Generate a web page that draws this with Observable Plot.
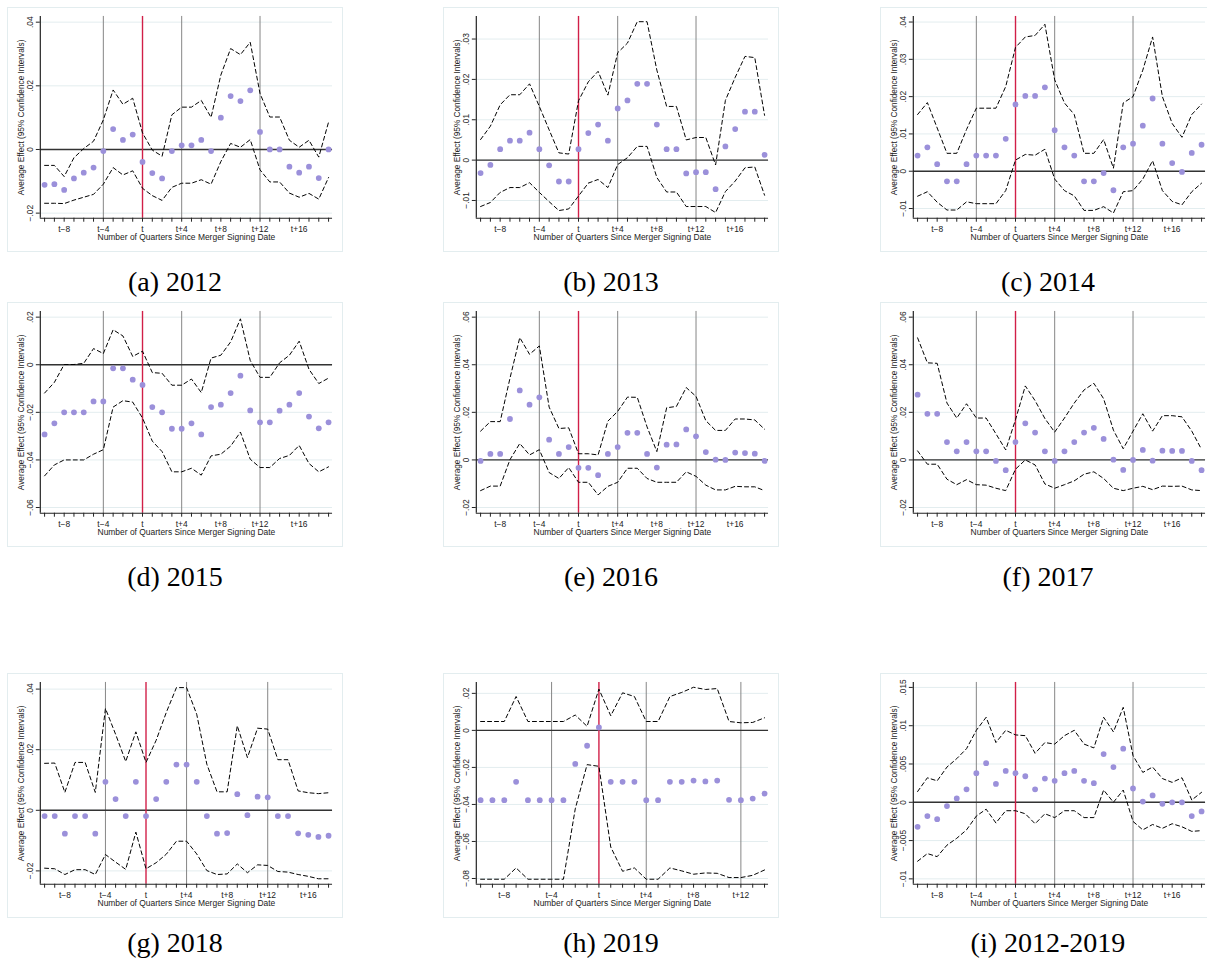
<!DOCTYPE html>
<html><head><meta charset="utf-8">
<script src="https://cdn.jsdelivr.net/npm/d3@7"></script>
<script src="https://cdn.jsdelivr.net/npm/@observablehq/plot@0.6"></script>
<style>
body{margin:0;background:#fff;}
#wrap{position:relative;width:1207px;height:966px;overflow:hidden;background:#fff;}
.panel{position:absolute;width:336px;height:245px;box-sizing:border-box;border:1px solid #e3edef;}
.panel svg{position:absolute;left:-1px;top:-1px;}
.cap{position:absolute;width:336px;text-align:center;font-family:"Liberation Serif","Times New Roman",serif;font-size:28px;line-height:30px;color:#000;white-space:nowrap;}
</style></head>
<body><div id="wrap"></div>
<script>
// ---------- data ----------
const quarters = d3.range(-10, 20);            // t-10 ... t+19
const xLabelTicks = [-8, -4, 0, 4, 8, 12, 16];
const eventLines = [-4, 4, 12];
const xTitle = "Number of Quarters Since Merger Signing Date";
const yTitle = "Average Effect (95% Confidence Intervals)";

const est2012 = [-0.0111,-0.0109,-0.0127,-0.0091,-0.0073,-0.0057,-0.0005,0.0064,0.0030,0.0047,-0.0039,-0.0074,-0.0091,-0.0005,0.0013,0.0013,0.0030,-0.0005,0.0100,0.0168,0.0152,0.0186,0.0055,0,0,-0.0054,-0.0073,-0.0054,-0.0090,0];
const hi2012  = [-0.0050,-0.0050,-0.0085,-0.0026,0.0003,0.0026,0.0093,0.0187,0.0142,0.0161,0.0052,-0.0002,-0.0021,0.0109,0.0133,0.0133,0.0154,0.0101,0.0234,0.0317,0.0298,0.0337,0.0176,0.0102,0.0102,0.0029,0.0007,0.0029,-0.0024,0.0086];
const lo2012  = [-0.0169,-0.0169,-0.0170,-0.0159,-0.0150,-0.0141,-0.0109,-0.0057,-0.0080,-0.0067,-0.0122,-0.0145,-0.0160,-0.0119,-0.0106,-0.0106,-0.0095,-0.0109,-0.0038,0.0019,0.0007,0.0031,-0.0064,-0.0102,-0.0102,-0.0137,-0.0150,-0.0138,-0.0156,-0.0088];
const yTicks2012 = [-0.02, 0, 0.02, 0.04];

const est2013 = [-0.0032,-0.0012,0.0027,0.0048,0.0048,0.0068,0.0027,-0.0013,-0.0053,-0.0053,0.0027,0.0067,0.0088,0.0048,0.0128,0.0148,0.0189,0.0189,0.0088,0.0027,0.0027,-0.0033,-0.0030,-0.0030,-0.0072,0.0034,0.0077,0.0120,0.0120,0.0013];
const hi2013  = [0.0051,0.0084,0.0137,0.0162,0.0162,0.0189,0.0133,0.0075,0.0018,0.0015,0.0147,0.0194,0.0220,0.0161,0.0266,0.0290,0.0343,0.0343,0.0223,0.0133,0.0133,0.0050,0.0056,0.0056,-0.0012,0.0148,0.0205,0.0257,0.0254,0.0111];
const lo2013  = [-0.0115,-0.0105,-0.0080,-0.0068,-0.0068,-0.0056,-0.0080,-0.0103,-0.0125,-0.0121,-0.0089,-0.0057,-0.0048,-0.0068,-0.0011,0.0006,0.0034,0.0034,-0.0043,-0.0079,-0.0079,-0.0115,-0.0115,-0.0115,-0.0130,-0.0078,-0.0052,-0.0019,-0.0017,-0.0087];
const yTicks2013 = [-0.01, 0, 0.01, 0.02, 0.03];

const est2014 = [0.0042,0.0064,0.0019,-0.0027,-0.0027,0.0019,0.0042,0.0042,0.0042,0.0087,0.0179,0.0202,0.0202,0.0225,0.0110,0.0064,0.0042,-0.0027,-0.0027,-0.0005,-0.0051,0.0064,0.0074,0.0122,0.0195,0.0074,0.0022,-0.0002,0.0049,0.0071];
const hi2014  = [0.0152,0.0184,0.0116,0.0048,0.0048,0.0112,0.0169,0.0169,0.0169,0.0227,0.0332,0.0360,0.0364,0.0394,0.0245,0.0183,0.0152,0.0048,0.0048,0.0085,0.0008,0.0183,0.0200,0.0271,0.0360,0.0200,0.0128,0.0091,0.0152,0.0180];
const lo2014  = [-0.0067,-0.0055,-0.0083,-0.0104,-0.0104,-0.0082,-0.0087,-0.0087,-0.0087,-0.0052,0.0030,0.0045,0.0043,0.0059,-0.0021,-0.0052,-0.0066,-0.0105,-0.0105,-0.0095,-0.0112,-0.0055,-0.0052,-0.0021,0.0028,-0.0052,-0.0081,-0.0090,-0.0055,-0.0032];
const yTicks2014 = [-0.01, 0, 0.01, 0.02, 0.03, 0.04];

const est2015 = [-0.0293,-0.0246,-0.0200,-0.0200,-0.0200,-0.0154,-0.0154,-0.0015,-0.0015,-0.0063,-0.0085,-0.0178,-0.0200,-0.0269,-0.0269,-0.0246,-0.0293,-0.0178,-0.0168,-0.0119,-0.0046,-0.0192,-0.0242,-0.0242,-0.0193,-0.0168,-0.0119,-0.0218,-0.0267,-0.0242];
const hi2015  = [-0.0119,-0.0074,0.0001,0.0001,0.0006,0.0068,0.0047,0.0147,0.0121,0.0035,0.0057,-0.0033,-0.0036,-0.0086,-0.0086,-0.0060,-0.0117,0.0028,0.0040,0.0096,0.0193,0.0018,-0.0053,-0.0053,0.0008,0.0040,0.0099,-0.0019,-0.0079,-0.0056];
const lo2015  = [-0.0467,-0.0421,-0.0400,-0.0400,-0.0400,-0.0376,-0.0357,-0.0178,-0.0151,-0.0157,-0.0224,-0.0321,-0.0365,-0.0450,-0.0450,-0.0435,-0.0464,-0.0383,-0.0376,-0.0342,-0.0283,-0.0397,-0.0432,-0.0432,-0.0394,-0.0381,-0.0339,-0.0415,-0.0450,-0.0429];
const yTicks2015 = [-0.06, -0.04, -0.02, 0, 0.02];

const est2016 = [-0.0004,0.0025,0.0025,0.0172,0.0292,0.0232,0.0263,0.0085,0.0025,0.0054,-0.0033,-0.0033,-0.0064,0.0025,0.0054,0.0114,0.0114,0.0025,-0.0032,0.0064,0.0065,0.0128,0.0099,0.0033,0.0001,0,0.0031,0.0029,0.0026,-0.0004];
const hi2016  = [0.0121,0.0161,0.0161,0.0343,0.0514,0.0444,0.0479,0.0222,0.0132,0.0135,0.0026,0.0026,0.0021,0.0163,0.0204,0.0264,0.0263,0.0139,0.0035,0.0219,0.0225,0.0304,0.0267,0.0165,0.0124,0.0124,0.0172,0.0172,0.0168,0.0129];
const lo2016  = [-0.0129,-0.0110,-0.0110,0.0001,0.0069,0.0021,0.0043,-0.0053,-0.0078,-0.0032,-0.0094,-0.0094,-0.0147,-0.0111,-0.0094,-0.0035,-0.0035,-0.0078,-0.0094,-0.0094,-0.0094,-0.0050,-0.0069,-0.0106,-0.0126,-0.0126,-0.0111,-0.0113,-0.0113,-0.0129];
const yTicks2016 = [-0.02, 0, 0.02, 0.04, 0.06];

const est2017 = [0.0274,0.0194,0.0194,0.0075,0.0036,0.0075,0.0036,0.0036,-0.0004,-0.0043,0.0075,0.0154,0.0115,0.0036,-0.0004,0.0036,0.0075,0.0115,0.0135,0.0088,0.0001,-0.0042,0,0.0042,-0.0003,0.0039,0.0038,0.0038,-0.0004,-0.0043];
const hi2017  = [0.0513,0.0408,0.0406,0.0239,0.0176,0.0236,0.0176,0.0176,0.0110,0.0042,0.0169,0.0311,0.0249,0.0174,0.0117,0.0176,0.0239,0.0294,0.0322,0.0257,0.0125,0.0047,0.0121,0.0194,0.0121,0.0186,0.0186,0.0181,0.0121,0.0044];
const lo2017  = [0.0038,-0.0018,-0.0018,-0.0081,-0.0104,-0.0083,-0.0104,-0.0106,-0.0119,-0.0129,-0.0039,0,-0.0021,-0.0101,-0.0119,-0.0104,-0.0088,-0.0060,-0.0050,-0.0078,-0.0119,-0.0129,-0.0119,-0.0111,-0.0125,-0.0110,-0.0111,-0.0110,-0.0126,-0.0129];
const yTicks2017 = [-0.02, 0, 0.02, 0.04, 0.06];

const est2018 = [-0.0019,-0.0019,-0.0077,-0.0019,-0.0019,-0.0077,0.0094,0.0037,-0.0019,0.0094,-0.0019,0.0037,0.0094,0.0151,0.0151,0.0094,-0.0019,-0.0077,-0.0075,0.0053,-0.0016,0.0045,0.0043,-0.0019,-0.0019,-0.0076,-0.0081,-0.0088,-0.0084];
const hi2018  = [0.0155,0.0156,0.0059,0.0158,0.0158,0.0059,0.0336,0.0251,0.0161,0.0259,0.0158,0.0231,0.0323,0.0405,0.0405,0.0317,0.0152,0.0061,0.0061,0.0279,0.0174,0.0271,0.0268,0.0167,0.0167,0.0064,0.0058,0.0055,0.0058];
const lo2018  = [-0.0191,-0.0193,-0.0212,-0.0196,-0.0196,-0.0212,-0.0146,-0.0171,-0.0195,-0.0072,-0.0193,-0.0173,-0.0145,-0.0102,-0.0102,-0.0144,-0.0199,-0.0212,-0.0210,-0.0177,-0.0206,-0.0180,-0.0182,-0.0202,-0.0204,-0.0212,-0.0218,-0.0226,-0.0226];
const yTicks2018 = [-0.02, 0, 0.02, 0.04];

const est2019 = [-0.0377,-0.0377,-0.0377,-0.0278,-0.0377,-0.0377,-0.0377,-0.0377,-0.0181,-0.0083,0.0016,-0.0278,-0.0278,-0.0278,-0.0377,-0.0377,-0.0278,-0.0278,-0.0271,-0.0276,-0.0271,-0.0375,-0.0377,-0.0368,-0.0341];
const hi2019  = [0.0048,0.0048,0.0048,0.0183,0.0048,0.0048,0.0048,0.0048,0.0083,0.0022,0.0223,0.0079,0.0203,0.0183,0.0048,0.0048,0.0183,0.0205,0.0233,0.0221,0.0226,0.0048,0.0041,0.0043,0.0068];
const lo2019  = [-0.0804,-0.0804,-0.0804,-0.0743,-0.0804,-0.0804,-0.0804,-0.0804,-0.0424,-0.0185,-0.0194,-0.0630,-0.0761,-0.0743,-0.0804,-0.0804,-0.0743,-0.0759,-0.0777,-0.0770,-0.0772,-0.0795,-0.0795,-0.0783,-0.0754];
const yTicks2019 = [-0.08, -0.06, -0.04, -0.02, 0, 0.02];

const estAll = [-0.0032,-0.0018,-0.0022,-0.0005,0.0005,0.0017,0.0038,0.0051,0.0024,0.0041,0.0038,0.0034,0.0017,0.0031,0.0028,0.0038,0.0041,0.0028,0.0025,0.0063,0.0046,0.0070,0.0018,0.0001,0.0009,-0.0002,0,0.0000,-0.0018,-0.0012];
const hiAll  = [0.0014,0.0032,0.0028,0.0046,0.0057,0.0070,0.0094,0.0111,0.0078,0.0094,0.0088,0.0087,0.0064,0.0078,0.0076,0.0087,0.0094,0.0076,0.0071,0.0111,0.0092,0.0124,0.0061,0.0039,0.0046,0.0031,0.0026,0.0032,0.0003,0.0013];
const loAll  = [-0.0077,-0.0067,-0.0071,-0.0056,-0.0047,-0.0036,-0.0018,-0.0009,-0.0027,-0.0011,-0.0011,-0.0015,-0.0028,-0.0015,-0.0020,-0.0011,-0.0011,-0.0020,-0.0020,0.0016,0,0.0016,-0.0025,-0.0036,-0.0029,-0.0034,-0.0028,-0.0032,-0.0038,-0.0037];
const yTicksAll = [-0.01, -0.005, 0, 0.005, 0.01, 0.015];

const captions = ["(a) 2012","(b) 2013","(c) 2014","(d) 2015","(e) 2016","(f) 2017","(g) 2018","(h) 2019","(i) 2012-2019"];

// ---------- panel setup ----------
const panels = [
  {est: est2012, hi: hi2012, lo: lo2012, yTicks: yTicks2012, yDomain: [-0.0216, 0.0418]},
  {est: est2013, hi: hi2013, lo: lo2013, yTicks: yTicks2013, yDomain: [-0.0144, 0.0356]},
  {est: est2014, hi: hi2014, lo: lo2014, yTicks: yTicks2014, yDomain: [-0.0126, 0.0415]},
  {est: est2015, hi: hi2015, lo: lo2015, yTicks: yTicks2015, yDomain: [-0.0624, 0.0224]},
  {est: est2016, hi: hi2016, lo: lo2016, yTicks: yTicks2016, yDomain: [-0.0224, 0.0624]},
  {est: est2017, hi: hi2017, lo: lo2017, yTicks: yTicks2017, yDomain: [-0.0224, 0.0624]},
  {est: est2018, hi: hi2018, lo: lo2018, yTicks: yTicks2018, yDomain: [-0.0244, 0.0422]},
  {est: est2019, hi: hi2019, lo: lo2019, yTicks: yTicks2019, yDomain: [-0.0831, 0.0259]},
  {est: estAll,  hi: hiAll,  lo: loAll,  yTicks: yTicksAll,  yDomain: [-0.0107, 0.01565]}
];

const colLeft = [7, 443, 880];
const rowTop = [7, 302, 673];
const capY = [282, 577, 943];

const fmtQ = d => d === 0 ? "t" : d < 0 ? "t\u2212" + (-d) : "t+" + d;
const fmtY = v => v === 0 ? "0" : (v < 0 ? "\u2212" : "") + String(Math.abs(v)).replace(/^0/, "");

const wrap = document.getElementById("wrap");

panels.forEach((p, i) => {
  const n = p.est.length;
  const qs = quarters.slice(0, n);
  const rows = qs.map((q, j) => ({q, est: p.est[j], hi: p.hi[j], lo: p.lo[j]}));
  const first = qs[0], last = qs[n - 1];
  const step = 294 / (n - 1 + 0.87);
  const pad0 = 4.3 / step, pad1 = 4.0 / step;
  const xDomain = [first - pad0, last + pad1];
  const inX = d => d >= xDomain[0] && d <= xDomain[1];

  const svg = Plot.plot({
    width: 336, height: 245,
    marginLeft: 33, marginRight: 9, marginTop: 9, marginBottom: 33,
    x: {type: "linear", domain: xDomain, axis: null, label: null},
    y: {type: "linear", domain: p.yDomain, axis: null, label: null},
    style: {fontFamily: "'Liberation Sans', Arial, Helvetica, sans-serif", background: "transparent", color: "#222", overflow: "visible"},
    marks: [
      Plot.gridY(p.yTicks, {stroke: "#e3edef", strokeOpacity: 1, strokeWidth: 1}),
      Plot.ruleX(eventLines.filter(inX), {stroke: "#858585", strokeWidth: 1}),
      Plot.ruleY([0], {stroke: "#333", strokeWidth: 1.4}),
      Plot.ruleX([0], {stroke: "#d11f48", strokeWidth: 1.4}),
      Plot.line(rows, {x: "q", y: "hi", stroke: "#000", strokeWidth: 1, strokeDasharray: "4,3"}),
      Plot.line(rows, {x: "q", y: "lo", stroke: "#000", strokeWidth: 1, strokeDasharray: "4,3"}),
      Plot.dot(rows, {x: "q", y: "est", r: 2.9, fill: "#9b90da", stroke: "none"}),
      Plot.ruleX([xDomain[0]], {stroke: "#222", strokeWidth: 1.2}),
      Plot.ruleY([p.yDomain[0]], {stroke: "#222", strokeWidth: 1.2}),
      Plot.axisX({ticks: qs, tickSize: 4, tickFormat: () => "", label: null, stroke: "#222"}),
      Plot.axisX({ticks: xLabelTicks.filter(inX), tickSize: 0, tickPadding: 7.5, tickFormat: fmtQ, fontSize: 8.5, label: null}),
      Plot.axisY({ticks: p.yTicks, tickSize: 4, tickFormat: () => "", label: null, stroke: "#222"}),
      Plot.text(p.yTicks, {y: d => d, text: fmtY, frameAnchor: "left", dx: -10, rotate: -90, fontSize: 8.5, textAnchor: "middle", lineAnchor: "middle", fill: "#222"}),
      Plot.text([yTitle], {text: d => d, frameAnchor: "left", dx: -19.5, rotate: -90, fontSize: 8.3, textAnchor: "middle", lineAnchor: "middle", fill: "#222"}),
      Plot.text([xTitle], {text: d => d, frameAnchor: "bottom", dy: 19, fontSize: 8.5, textAnchor: "middle", lineAnchor: "middle", fill: "#222"})
    ]
  });

  const col = i % 3, row = Math.floor(i / 3);
  const div = document.createElement("div");
  div.className = "panel";
  div.style.left = colLeft[col] + "px";
  div.style.top = rowTop[row] + "px";
  div.appendChild(svg);
  wrap.appendChild(div);

  const cap = document.createElement("div");
  cap.className = "cap";
  cap.style.left = colLeft[col] + "px";
  cap.style.top = (capY[row] - 15) + "px";
  cap.textContent = captions[i];
  wrap.appendChild(cap);
});
</script>
</body></html>
